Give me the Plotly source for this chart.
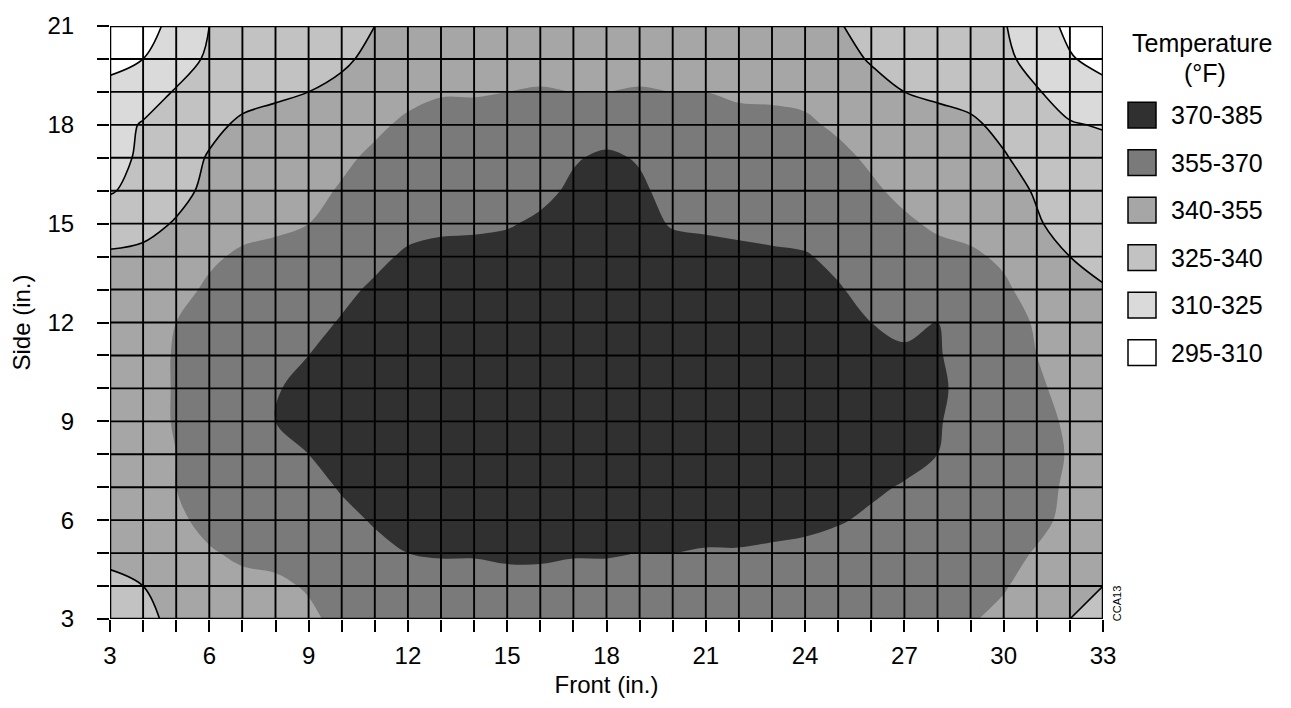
import plotly.graph_objects as go

# Grid positions (inches)
front_in = [3, 4, 5, 6, 7, 8, 9, 10, 11, 12, 13, 14, 15, 16, 17, 18, 19, 20, 21, 22, 23, 24, 25, 26, 27, 28, 29, 30, 31, 32, 33]
side_in = [21, 20, 19, 18, 17, 16, 15, 14, 13, 12, 11, 10, 9, 8, 7, 6, 5, 4, 3]

# Temperature (°F), rows from Side = 21 down to Side = 3, columns Front = 3..33
temp_f = [
    [299, 305, 314, 325, 331, 332, 332, 335, 340, 346, 348, 348, 348, 348, 348, 348, 348, 348, 348, 348, 348, 346, 341, 335, 332, 332, 332, 326, 316, 307, 300],
    [306, 310, 319, 327, 332, 332, 335, 338, 343, 348, 348, 348, 349, 350, 349, 349, 350, 349, 349, 348, 348, 348, 344, 339, 335, 332, 332, 328, 320, 311, 306],
    [314, 319, 326, 332, 336, 338, 340, 343, 348, 352, 354, 354, 355, 356, 355, 355, 356, 355, 355, 353, 353, 352, 348, 344, 340, 338, 336, 332, 326, 319, 314],
    [320, 326, 331, 337, 342, 344, 345, 348, 353, 357, 360, 360, 361, 362, 363, 364, 363, 361, 360, 359, 358, 357, 353, 349, 345, 344, 342, 337, 331, 326, 324],
    [321, 327, 334, 341, 346, 348, 348, 353, 357, 362, 362, 362, 362, 364, 369, 372, 369, 364, 362, 362, 362, 361, 358, 353, 348, 348, 346, 341, 335, 332, 330],
    [324, 329, 336, 343, 348, 348, 352, 356, 361, 362, 362, 362, 363, 367, 372, 377, 372, 366, 362, 362, 362, 362, 362, 357, 352, 348, 348, 344, 339, 333, 332],
    [333, 336, 341, 347, 351, 353, 355, 360, 363, 366, 368, 368, 369, 372, 376, 379, 374, 369, 368, 367, 366, 365, 363, 361, 357, 353, 351, 348, 341, 336, 332],
    [342, 343, 347, 353, 357, 358, 361, 363, 367, 372, 373, 374, 375, 377, 380, 382, 377, 375, 374, 373, 372, 371, 367, 363, 361, 359, 357, 353, 346, 340, 336],
    [348, 348, 351, 357, 362, 362, 362, 367, 372, 376, 379, 380, 381, 382, 384, 384, 383, 380, 380, 379, 378, 376, 371, 366, 362, 364, 362, 357, 350, 345, 341],
    [348, 350, 355, 360, 362, 362, 366, 371, 375, 380, 384, 384, 384, 384, 384, 384, 384, 384, 384, 384, 384, 379, 375, 370, 367, 370, 365, 359, 354, 348, 346],
    [348, 350, 356, 362, 362, 366, 370, 375, 379, 384, 384, 384, 384, 384, 384, 384, 384, 384, 384, 384, 384, 383, 379, 375, 372, 371, 365, 361, 355, 349, 348],
    [348, 350, 356, 362, 363, 369, 374, 378, 383, 384, 384, 384, 384, 384, 384, 384, 384, 384, 384, 384, 384, 384, 383, 380, 378, 372, 366, 362, 357, 351, 348],
    [348, 350, 356, 362, 364, 370, 374, 378, 383, 384, 384, 384, 384, 384, 384, 384, 384, 384, 384, 384, 384, 384, 384, 382, 377, 371, 365, 362, 359, 353, 348],
    [348, 349, 355, 361, 362, 366, 370, 374, 379, 384, 384, 384, 384, 384, 384, 384, 384, 384, 384, 384, 384, 384, 381, 377, 374, 370, 365, 362, 360, 354, 348],
    [348, 349, 355, 361, 362, 362, 366, 371, 375, 380, 383, 383, 384, 384, 383, 383, 382, 382, 381, 381, 380, 379, 376, 372, 369, 366, 362, 362, 359, 353, 348],
    [348, 348, 353, 358, 362, 362, 362, 367, 371, 375, 377, 377, 378, 378, 377, 377, 376, 376, 375, 375, 374, 373, 371, 368, 364, 362, 362, 362, 358, 352, 348],
    [343, 345, 349, 354, 357, 358, 361, 363, 367, 370, 371, 371, 372, 372, 371, 371, 370, 370, 369, 369, 368, 367, 365, 363, 362, 362, 362, 359, 354, 349, 346],
    [337, 340, 345, 349, 352, 353, 356, 361, 362, 365, 365, 365, 366, 366, 365, 365, 364, 364, 363, 363, 362, 362, 362, 362, 362, 362, 360, 356, 350, 345, 340],
    [332, 337, 343, 348, 348, 348, 353, 358, 362, 362, 362, 362, 362, 362, 362, 362, 362, 362, 362, 362, 362, 362, 362, 362, 362, 362, 356, 352, 347, 340, 336],
]

# Temperature bands
band_labels = ["295-310", "310-325", "325-340", "340-355", "355-370", "370-385"]
band_colors = ["#ffffff", "#dadada", "#c2c2c2", "#a6a6a6", "#7a7a7a", "#303030"]
level_start, level_end, level_step = 295, 385, 15
lined_levels = (310, 340)  # contour levels drawn with black outlines

x_ticks = front_in
x_ticktext = [str(v) if v % 3 == 0 else "" for v in x_ticks]
y_ticks = side_in[::-1]
y_ticktext = [str(v) if v % 3 == 0 else "" for v in y_ticks]

# stepped colorscale
breaks = [0, 0.215, 0.35, 0.5, 0.65, 0.79, 1]
cscale = []
for i, c in enumerate(band_colors):
    cscale.append([breaks[i], c])
    cscale.append([breaks[i + 1], c])

z = temp_f[::-1]
y = side_in[::-1]

fig = go.Figure()
fig.add_trace(go.Contour(
    x=front_in, y=y, z=z,
    contours=dict(start=level_start, end=level_end, size=level_step,
                  coloring="fill", showlines=False),
    colorscale=cscale, zmin=level_start, zmax=level_end, zauto=False,
    line=dict(width=0, smoothing=1), showscale=False, hoverinfo="skip",
))
fig.add_trace(go.Contour(
    x=front_in, y=y, z=z,
    contours=dict(start=lined_levels[0], end=lined_levels[1], size=level_step,
                  coloring="none", showlines=True),
    line=dict(color="black", width=1.6, smoothing=1), showscale=False, hoverinfo="skip",
))

shapes = []
for v in front_in:
    shapes.append(dict(type="line", xref="x", yref="y", x0=v, x1=v, y0=min(side_in), y1=max(side_in),
                       line=dict(color="black", width=1.9), layer="above"))
for v in side_in:
    shapes.append(dict(type="line", xref="x", yref="y", x0=min(front_in), x1=max(front_in), y0=v, y1=v,
                       line=dict(color="black", width=1.9), layer="above"))
shapes.append(dict(type="rect", xref="x", yref="y", x0=min(front_in), x1=max(front_in),
                   y0=min(side_in), y1=max(side_in), line=dict(color="black", width=2.5), layer="above"))

# layout geometry (pixels)
W, H = 1291, 708
L_, R_, T_, B_ = 110, 1103, 20, 619
def px(xp):
    return (xp - L_) / (R_ - L_)
def py(yp):
    return (B_ - yp) / (B_ - T_)

font = "Liberation Sans, Arial, Helvetica, sans-serif"
annotations = [
    dict(text="Temperature", x=px(1202), y=py(37), xref="paper", yref="paper", showarrow=False,
         font=dict(size=25, color="black", family=font), xanchor="center", yanchor="middle"),
    dict(text="(°F)", x=px(1205), y=py(67), xref="paper", yref="paper", showarrow=False,
         font=dict(size=25, color="black", family=font), xanchor="center", yanchor="middle"),
    dict(text="CCA13", x=px(1117), y=py(604), xref="paper", yref="paper", showarrow=False, textangle=-90,
         font=dict(size=11, color="black", family=font), xanchor="center", yanchor="middle"),
]
for k, (lab, col) in enumerate(zip(band_labels[::-1], band_colors[::-1])):
    top = 97 + 48 * k
    shapes.append(dict(type="rect", xref="paper", yref="paper", x0=px(1128), x1=px(1156),
                       y0=py(top + 26), y1=py(top), fillcolor=col, line=dict(color="black", width=1.5)))
    annotations.append(dict(text=lab, x=px(1169), y=py(top + 13), xref="paper", yref="paper",
                            showarrow=False, xanchor="left", yanchor="middle",
                            font=dict(size=25, color="black", family=font)))

fig.update_layout(
    width=W, height=H,
    margin=dict(l=L_, r=W - R_, t=T_, b=H - B_),
    paper_bgcolor="white", plot_bgcolor="white",
    font=dict(family=font, color="black"),
    shapes=shapes, annotations=annotations, showlegend=False,
    xaxis=dict(range=[3, 33], tickvals=x_ticks, ticktext=x_ticktext, ticks="outside", ticklen=12,
               tickwidth=1.5, tickcolor="black", showgrid=False, zeroline=False, showline=False,
               tickfont=dict(size=24, family=font, color="black"), ticklabelstandoff=3,
               title=dict(text="Front (in.)", font=dict(size=24, family=font, color="black"), standoff=8)),
    yaxis=dict(range=[3, 21], tickvals=y_ticks, ticktext=y_ticktext, ticks="outside", ticklen=12,
               tickwidth=1.5, tickcolor="black", showgrid=False, zeroline=False, showline=False,
               tickfont=dict(size=24, family=font, color="black"), ticklabelstandoff=18,
               title=dict(text="Side (in.)", font=dict(size=24, family=font, color="black"), standoff=10)),
)
fig.write_html("out.html")
